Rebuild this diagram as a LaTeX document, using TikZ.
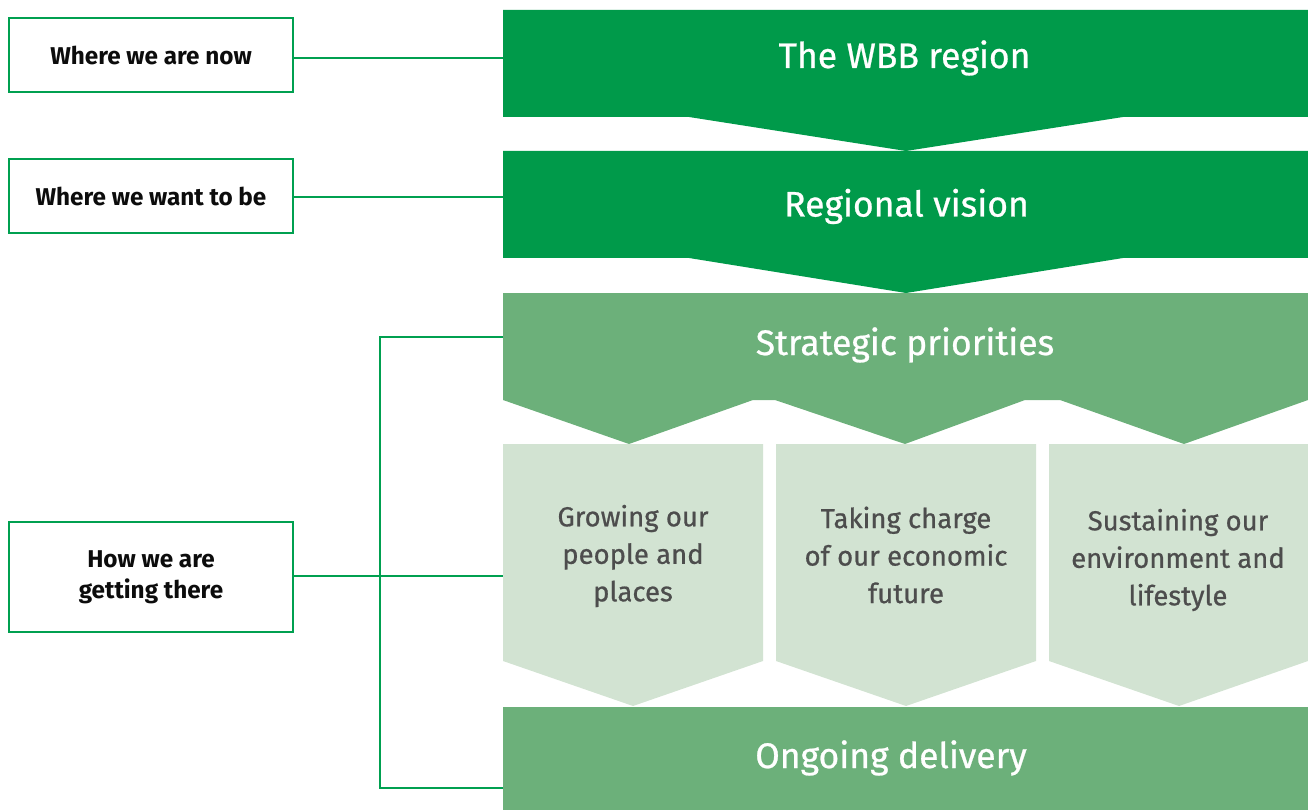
\documentclass[tikz,border=0pt]{standalone}
\usepackage{fontspec}
\setmainfont{Fira Sans}
\newfontfamily\firamed[FakeBold=0.7]{Fira Sans}
\definecolor{dkgreen}{RGB}{0,154,74}
\definecolor{mdgreen}{RGB}{108,176,122}
\definecolor{ltgreen}{RGB}{210,227,210}
\definecolor{linegreen}{RGB}{0,160,80}
\definecolor{greytext}{RGB}{77,77,77}
\definecolor{labeltext}{RGB}{12,12,12}
\begin{document}
\begin{tikzpicture}[x=1pt,y=-1pt,
  labelbox/.style={draw=linegreen, line width=2.2pt, minimum width=284pt, inner sep=0pt,
    text=labeltext, font=\fontsize{24.3}{31}\selectfont\bfseries, align=center},
  conn/.style={draw=linegreen, line width=2.2pt},
  titletext/.style={text=white, anchor=base, font=\firamed\fontsize{35.5}{40}\selectfont},
  subtext/.style={text=greytext, font=\firamed\fontsize{27.5}{37.5}\selectfont, align=center}]
\useasboundingbox (0,0) rectangle (1308,810);

% shapes
\fill[dkgreen] (503,10) -- (1308,10) -- (1308,117) -- (1123,117) -- (906,151) -- (689,117) -- (503,117) -- cycle;
\fill[dkgreen] (503,151) -- (1308,151) -- (1308,258) -- (1123,258) -- (906,293) -- (689,258) -- (503,258) -- cycle;
\fill[mdgreen] (503,293) -- (1308,293) -- (1308,400) -- (1184,444) -- (1060,400) -- (1025,400) -- (905,444) -- (775,400) -- (753,400) -- (629,444) -- (503,400) -- cycle;
\fill[ltgreen] (503,444) -- (763,444) -- (763,661) -- (633,706) -- (503,661) -- cycle;
\fill[ltgreen] (776,444) -- (1036,444) -- (1036,661) -- (906,706) -- (776,661) -- cycle;
\fill[ltgreen] (1049,444) -- (1308,444) -- (1308,661) -- (1179,706) -- (1049,661) -- cycle;
\fill[mdgreen] (503,707) rectangle (1308,810);

% titles
\node[titletext] (wbb) at (904.5,68) {The WBB region};
\node[titletext] (vision) at (906.5,216.5) {Regional vision};
\node[titletext] (prio) at (905,355) {Strategic priorities};
\node[titletext] (deliv) at (891,768) {Ongoing delivery};
\node[subtext] (grow) at (633,556) {Growing our\\people and\\places};
\node[subtext] (econ) at (906,555) {Taking charge\\of our economic\\future};
\node[subtext] (env) at (1178,560) {Sustaining our\\environment and\\lifestyle};

% left labels
\node[labelbox, minimum height=74pt] (now) at (151,55) {Where we are now};
\node[labelbox, minimum height=74pt] (want) at (151,196) {Where we want to be};
\node[labelbox, minimum height=110pt] (how) at (151,577) {How we are\\getting there};

% connector ends
\coordinate (wbbL) at (503,58);
\coordinate (visL) at (503,197);
\coordinate (prioL) at (503,337);
\coordinate (growL) at (503,576);
\coordinate (delivL) at (503,788);
\coordinate (jn) at (380,576);

\draw[conn] (now.east |- wbbL) -- (wbbL);
\draw[conn] (want.east |- visL) -- (visL);
\draw[conn] (how.east |- growL) -- (growL);
\draw[conn] (prioL) -- (jn |- prioL) -- (jn |- delivL) -- (delivL);
\end{tikzpicture}
\end{document}
